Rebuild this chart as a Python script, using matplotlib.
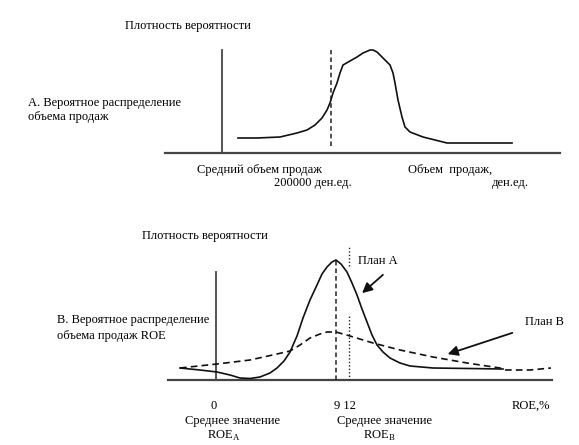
import matplotlib.pyplot as plt

plt.rcParams['font.family'] = ['Liberation Serif', 'DejaVu Serif']
plt.rcParams['mathtext.fontset'] = 'custom'
plt.rcParams['mathtext.rm'] = 'Liberation Serif'

W, H = 579, 445

# Panel A: sales volume density (x = horizontal position, y = height above axis)
sales_x = [238, 257, 280, 297, 307, 315, 322, 327, 330, 333, 337, 340, 343, 350, 357, 363, 370, 373,
           377, 383, 390, 393, 395, 398, 402, 405, 410, 423, 447, 512]
sales_density = [15, 15, 16, 20, 23, 28, 35, 43, 50, 60, 70, 80, 88, 92, 96, 100, 103, 103,
                 101, 95, 88, 80, 70, 53, 36, 26, 21, 16, 10, 10]
sales_mean_x = 331

# Panel B: ROE density, plan A (solid) and plan B (dashed)
plan_a_x = [180, 200, 217, 230, 240, 250, 260, 270, 277, 284, 290, 297, 303, 310, 317, 322, 327, 332, 336,
            341, 347, 352, 357, 362, 367, 372, 377, 383, 390, 400, 410, 433, 503]
plan_a_density = [12, 10, 8, 5, 2, 1.5, 3, 7, 12, 19, 28, 44, 62, 80, 95, 106, 113, 118, 120,
                  116, 108, 97, 85, 71, 58, 45, 35, 28, 22, 17, 14, 12, 11]
plan_b_x = [180, 217, 250, 277, 290, 300, 310, 320, 327, 336, 343, 350, 373, 400, 433, 467, 500, 506, 530, 551]
plan_b_density = [12, 16, 20, 26, 29, 35, 42, 46, 48, 48, 46, 44, 37, 30, 23, 17, 12, 10, 10, 12]
roe_a_x = 336
roe_b_x = 348.5

fig = plt.figure(figsize=(W / 100, H / 100), dpi=100)

# top panel: baseline at pixel row 153
ax1 = fig.add_axes([0, 1 - 153 / H, 1, 153 / H])
ax1.set_xlim(0, W)
ax1.set_ylim(0, 153)
# bottom panel: baseline at pixel row 380, top at row 220
ax2 = fig.add_axes([0, 1 - 380 / H, 1, 160 / H])
ax2.set_xlim(0, W)
ax2.set_ylim(0, 160)
for ax in (ax1, ax2):
    ax.axis('off')

axis_col = '#444444'
fs = 9

# --- panel A ---
ax1.plot([165, 560], [0, 0], color=axis_col, lw=1.6, clip_on=False)
ax1.plot([221.7, 221.7], [0, 103], color=axis_col, lw=1.3)
ax1.plot(sales_x, sales_density, color='#111111', lw=1.2)
ax1.plot([sales_mean_x, sales_mean_x], [7, 103], color='#222222', lw=1.1, ls=(0, (3, 2)))

ax1.text(125, 127, 'Плотность вероятности', fontsize=fs, va='center')
ax1.text(28, 50.3, 'А. Вероятное распределение', fontsize=fs, va='center')
ax1.text(28, 35.7, 'объема продаж', fontsize=fs, va='center')
ax1.text(197, -17, 'Средний объем продаж', fontsize=fs, va='center', clip_on=False)
ax1.text(274, -30.3, '200000 ден.ед.', fontsize=fs, va='center', clip_on=False)
ax1.text(408, -17, 'Объем  продаж,', fontsize=fs, va='center', clip_on=False)
ax1.text(492, -30.3, 'ден.ед.', fontsize=fs, va='center', clip_on=False)

# --- panel B ---
ax2.plot([168, 552], [0, 0], color=axis_col, lw=1.6, clip_on=False)
ax2.plot([216, 216], [0, 108], color=axis_col, lw=1.3)
ax2.plot(plan_a_x, plan_a_density, color='#111111', lw=1.2)
ax2.plot(plan_b_x, plan_b_density, color='#111111', lw=1.2, ls=(0, (4, 2.5)))
ax2.plot([roe_a_x, roe_a_x], [0, 120], color='#222222', lw=1.1, ls=(0, (3, 2)))
ax2.plot([roe_b_x, roe_b_x], [0, 65], color='#222222', lw=1.0, ls=(0, (1, 1.5)))
ax2.plot([roe_b_x, roe_b_x], [114, 134], color='#222222', lw=1.0, ls=(0, (1, 1.5)))

arrow = dict(arrowstyle='-|>,head_length=0.6,head_width=0.3', color='#111111', lw=1.3)
ax2.annotate('', xy=(360, 85), xytext=(385, 107), arrowprops=arrow)
ax2.annotate('', xy=(445, 25), xytext=(515, 48), arrowprops=arrow)

ax2.text(142, 144.3, 'Плотность вероятности', fontsize=fs, va='center')
ax2.text(358, 119, 'План А', fontsize=fs, va='center')
ax2.text(525, 58.3, 'План В', fontsize=fs, va='center')
ax2.text(57, 60, 'В. Вероятное распределение', fontsize=fs, va='center')
ax2.text(57, 44.3, 'объема продаж ROE', fontsize=fs, va='center')
ax2.text(214, -25.7, '0', fontsize=fs, va='center', ha='center', clip_on=False)
ax2.text(334, -25.7, '9 12', fontsize=fs, va='center', clip_on=False)
ax2.text(512, -25.7, 'ROE,%', fontsize=fs, va='center', clip_on=False)
ax2.text(185, -40.7, 'Среднее значение', fontsize=fs, va='center', clip_on=False)
ax2.text(207, -55.7, r'ROE$_\mathrm{A}$', fontsize=fs, va='center', clip_on=False)
ax2.text(337, -40.7, 'Среднее значение', fontsize=fs, va='center', clip_on=False)
ax2.text(363, -55.7, r'ROE$_\mathrm{B}$', fontsize=fs, va='center', clip_on=False)

fig.savefig('out.png', dpi=100)
